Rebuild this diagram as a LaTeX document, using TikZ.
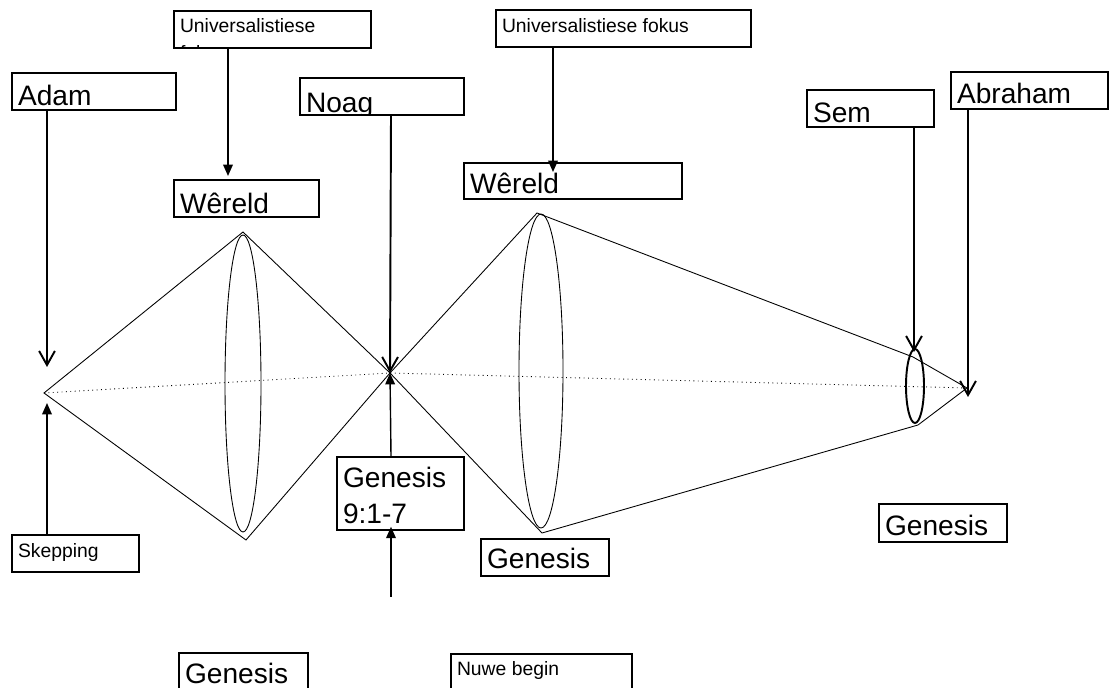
\documentclass[tikz,border=0pt]{standalone}
\usepackage{fontspec}
\setmainfont{Liberation Sans}
\usepackage{tikz}
\usetikzlibrary{arrows.meta, calc, positioning}
\tikzstyle{box} = [draw, line width=1pt, rectangle, anchor=north west, inner sep=0pt]
\tikzstyle{thin} = [line width=0.5pt]
\tikzstyle{vee} = [line width=1.1pt, -{Straight Barb[length=8pt,width=9pt]}]
\tikzstyle{tri} = [line width=0.8pt, -{Triangle[length=6.5pt,width=5.5pt]}]
\newcommand{\bigtxt}{\fontsize{16}{20.5}\selectfont}
\newcommand{\smltxt}{\fontsize{11}{15.3}\selectfont}

\begin{document}
\begin{tikzpicture}[x=0.02cm, y=-0.02cm]
	
	\useasboundingbox (0,0) rectangle (1109,688);
	
	% name, x, y, width, height, font, baseline of last line, text
	\newcommand{\TXTBOX}[8]{\node[box, minimum width=#4*0.02cm, minimum height=#5*0.02cm, path picture={\node[draw=none, minimum width=0pt, minimum height=0pt, anchor=base west, inner sep=0pt, font=#6, align=left] at ([xshift=3pt, yshift=-#7*0.02cm]path picture bounding box.north west) {#8};}] (#1) at (#2,#3) {};}
	
	\TXTBOX{uf1}{173}{10}{197}{37}{\smltxt}{49}{Universalistiese\\fokus}
	\TXTBOX{uf2}{495}{9}{255}{37}{\smltxt}{23}{Universalistiese fokus}
	\TXTBOX{adam}{11}{72}{164}{37}{\bigtxt}{33}{Adam}
	\TXTBOX{noag}{299}{77}{164}{37}{\bigtxt}{35}{Noag}
	\TXTBOX{wereld1}{173}{179}{145}{37}{\bigtxt}{34}{Wêreld}
	\TXTBOX{wereld2}{463}{162}{218}{36}{\bigtxt}{31}{Wêreld}
	\TXTBOX{sem}{806}{89}{127}{37}{\bigtxt}{33}{Sem}
	\TXTBOX{abraham}{950}{71}{157}{37}{\bigtxt}{32}{Abraham}
	\TXTBOX{gen9}{336}{456}{127}{73}{\bigtxt}{67}{Genesis\\9:1-7}
	\TXTBOX{skep}{11}{534}{127}{37}{\smltxt}{23}{Skepping}
	\TXTBOX{genbl}{178}{652}{129}{40}{\bigtxt}{31}{Genesis}
	\TXTBOX{genmid}{480}{538}{128}{37}{\bigtxt}{30}{Genesis}
	\TXTBOX{genr}{878}{503}{128}{38}{\bigtxt}{32}{Genesis}
	\TXTBOX{nuwe}{450}{653}{181}{40}{\smltxt}{22}{Nuwe begin}
	
	% lens points
	\coordinate (start) at (44,393);
	\coordinate (lens1top) at (243,232);
	\coordinate (lens1bot) at (246,540);
	\coordinate (cross) at (390,373);
	\coordinate (lens2top) at (537,213);
	\coordinate (lens2bot) at (542,533);
	\coordinate (semtop) at (913,357);
	\coordinate (sembot) at (918,425);
	\coordinate (focus) at (967,388);
	
	\draw[thin] (start) -- (lens1top) -- (cross) -- (lens1bot) -- cycle;
	\draw[thin] (243,383.5) ellipse (18 and 148.5);
	\draw[thin] (cross) -- (lens2top) -- (semtop) -- (focus) -- (sembot) -- (lens2bot) -- cycle;
	\draw[thin] (541,371) ellipse (22 and 157);
	\draw[line width=1.1pt] (915,386) ellipse (9 and 37);
	\draw[thin, dotted] (start) -- (cross) -- (focus);
	
	% arrow ends
	\coordinate (adamtip) at (47,367);
	\coordinate (skeptip) at (47,403);
	\coordinate (semtip) at (914,352);
	\coordinate (abrtip) at (968,397);
	\coordinate (nuwetail) at (391,597);
	
	\draw[vee] ($ (adam.south west) + (36,0) $) -- (adamtip);
	\draw[tri] ($ (skep.north west) + (36,0) $) -- (skeptip);
	\draw[tri] ($ (uf1.south west) + (55,0) $) -- ($ (wereld1.north west) + (55,-3) $);
	\draw[tri] ($ (uf2.south west) + (58,0) $) -- ($ (wereld2.north west) + (90,10) $);
	\draw[vee] ($ (noag.south west) + (92,0) $) -- (cross);
	\draw[tri] ($ (gen9.north west) + (55,0) $) -- (cross);
	\draw[tri] (nuwetail) -- ($ (gen9.south west) + (55,-4) $);
	\draw[vee] ($ (sem.south west) + (108,0) $) -- (semtip);
	\draw[vee] ($ (abraham.south west) + (18,0) $) -- (abrtip);
	
\end{tikzpicture}
\end{document}
